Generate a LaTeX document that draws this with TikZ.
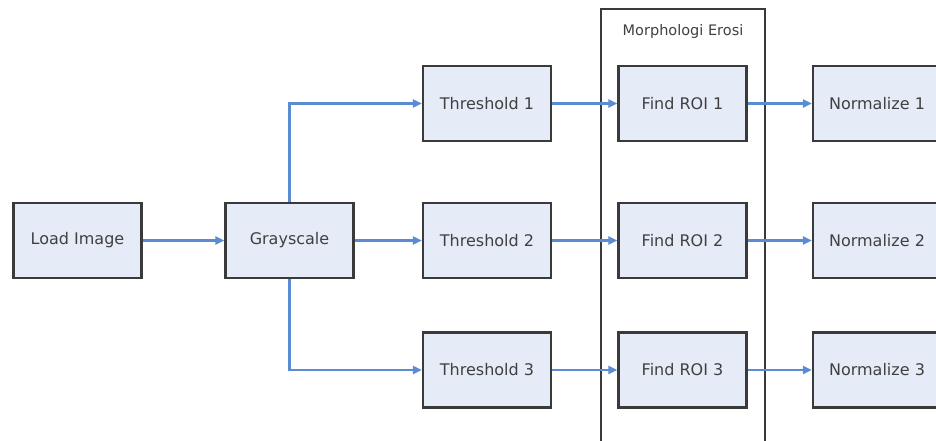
\documentclass[tikz,border=0pt]{standalone}
\usepackage{fontspec}
\setmainfont{DejaVu Sans}
\usetikzlibrary{arrows.meta}
\definecolor{boxfill}{HTML}{E6ECF7}
\definecolor{boxline}{HTML}{3A3A3A}
\definecolor{flow}{HTML}{5B8BD0}
\definecolor{txt}{HTML}{404040}
\tikzset{
  stage/.style={draw=boxline, line width=2.2pt, fill=boxfill, minimum width=128pt,
    minimum height=75pt, inner sep=0pt, text=txt, font=\fontsize{16}{18}\selectfont},
  flowline/.style={draw=flow, line width=2.4pt, -{Triangle[length=9pt,width=8pt]}},
  group/.style={draw=boxline, line width=1.6pt},
}
\begin{document}
\begin{tikzpicture}[x=1pt, y=-1pt]
\useasboundingbox (0,0) rectangle (936,441);
% stage group frame
\draw[group] (601,9) rectangle (765,448);
\node[text=txt, font=\fontsize{14.5}{16}\selectfont] (title) at (683,32) {Morphologi Erosi};
% stages
\node[stage] (load) at (77.5,240.5) {Load Image};
\node[stage] (gray) at (289.5,240.5) {Grayscale};
\node[stage] (th1) at (487,103.5) {Threshold 1};
\node[stage] (th2) at (487,240.5) {Threshold 2};
\node[stage] (th3) at (487,370) {Threshold 3};
\node[stage] (roi1) at (682.5,103.5) {Find ROI 1};
\node[stage] (roi2) at (682.5,240.5) {Find ROI 2};
\node[stage] (roi3) at (682.5,370) {Find ROI 3};
\node[stage] (nrm1) at (877,103.5) {Normalize 1};
\node[stage] (nrm2) at (877,240.5) {Normalize 2};
\node[stage] (nrm3) at (877,370) {Normalize 3};
% connectors
\draw[flowline] (load) -- (gray);
\draw[flowline] (gray.north) |- (th1.west);
\draw[flowline] (gray) -- (th2);
\draw[flowline] (gray.south) |- (th3.west);
\draw[flowline] (th1) -- (roi1);
\draw[flowline] (th2) -- (roi2);
\draw[flowline] (th3) -- (roi3);
\draw[flowline] (roi1) -- (nrm1);
\draw[flowline] (roi2) -- (nrm2);
\draw[flowline] (roi3) -- (nrm3);
\end{tikzpicture}
\end{document}
